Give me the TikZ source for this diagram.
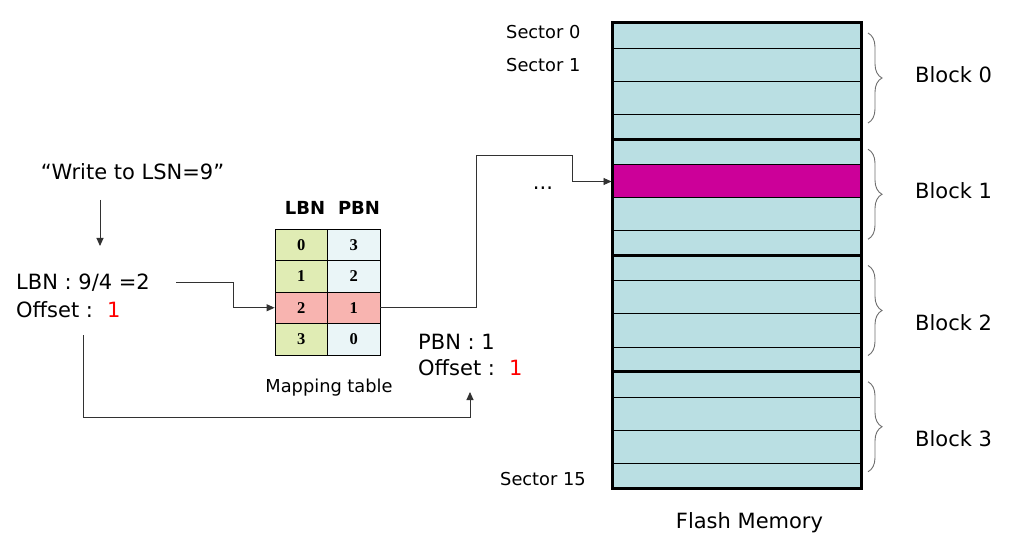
\documentclass[tikz,border=0pt]{standalone}
\usepackage{fontspec}
\setmainfont{DejaVu Sans}
\newfontfamily\tabserif{Liberation Serif}
\usetikzlibrary{decorations.pathreplacing,arrows.meta}
\definecolor{cellblue}{RGB}{186,223,227}
\definecolor{hotmag}{RGB}{204,0,153}
\definecolor{lbngreen}{RGB}{224,236,180}
\definecolor{pbnblue}{RGB}{234,245,247}
\definecolor{hipink}{RGB}{248,180,176}
\definecolor{conn}{RGB}{50,50,50}
\definecolor{bracegray}{RGB}{110,110,110}
\tikzset{
  txt/.style={inner sep=0pt, font=\fontsize{21}{23}\selectfont},
  small/.style={inner sep=0pt, font=\fontsize{17.8}{20}\selectfont},
  hdr/.style={inner sep=0pt, font=\fontsize{18}{20}\selectfont\bfseries},
  cell/.style={draw=black, line width=0.8pt, minimum width=52.5pt, minimum height=31.5pt, inner sep=0pt, font=\fontsize{16.5}{18}\selectfont\tabserif\bfseries},
  conline/.style={draw=conn, line width=0.9pt},
  arr/.style={-{Triangle[length=8pt,width=7pt]}},
  blockbrace/.style={draw=bracegray, line width=0.9pt, decorate, decoration={brace, amplitude=14pt, aspect=0.5}},
}
\begin{document}
\begin{tikzpicture}[x=1pt,y=-1pt]
\useasboundingbox (0,0) rectangle (1010,548);
% flash memory body
\fill[cellblue] (612,23) rectangle (861,488);
\foreach \b in {0,...,3}{
  \pgfmathsetmacro\t{23+116.25*\b}
  \foreach \o in {25.5,58.5,91.5}{
    \draw[line width=1pt] (612,\t+\o) -- (861,\t+\o);
  }
}
\node[draw=black, line width=1pt, fill=hotmag, minimum width=249pt, minimum height=33pt, inner sep=0pt] (s5) at (736.5,181.5) {};
\foreach \y in {139.25,255.5,371.75}{
  \draw[line width=3pt] (612,\y) -- (861,\y);
}
\node[draw=black, line width=3pt, minimum width=249pt, minimum height=465pt, inner sep=0pt] (fm) at (736.5,255.5) {};
% braces and block labels
\foreach \b in {0,...,3}{
  \pgfmathsetmacro\t{23+116.25*\b}
  \draw[blockbrace] (868,\t+10) -- (868,\t+100);
}
\node[txt, anchor=base west] (b0) at (915,82.5) {Block 0};
\node[txt, anchor=base west] (b1) at (915,198.5) {Block 1};
\node[txt, anchor=base west] (b2) at (915,330.5) {Block 2};
\node[txt, anchor=base west] (b3) at (915,446.5) {Block 3};
% sector labels
\node[small, anchor=base west] (sec0) at (506,39) {Sector 0};
\node[small, anchor=base west] (sec1) at (506,71.5) {Sector 1};
\node[small, anchor=base west] (sec15) at (500,485) {Sector 15};
\node[txt, anchor=base] (fmlabel) at (749.5,528.5) {Flash Memory};
% left texts
\node[txt, anchor=base] (write) at (132.5,180) {“Write to LSN=9”};
\node[txt, anchor=base west] (lbn) at (16,290) {LBN : 9/4 =2};
\node[txt, anchor=base west] (off) at (16,317) {Offset :\hspace{14pt}{\color{red}1}};
\node[txt, anchor=base west] (pbn) at (418,349.5) {PBN : 1};
\node[txt, anchor=base west] (off2) at (418,375.5) {Offset :\hspace{14pt}{\color{red}1}};
\node[txt, anchor=base] (dots) at (543,190) {...};
% mapping table
\node[hdr, anchor=base] (hl) at (305,215) {LBN};
\node[hdr, anchor=base] (hp) at (359,215) {PBN};
\node[cell, fill=lbngreen] (c00) at (301.25,244.75) {0};
\node[cell, fill=pbnblue]  (c01) at (353.75,244.75) {3};
\node[cell, fill=lbngreen] (c10) at (301.25,276.25) {1};
\node[cell, fill=pbnblue]  (c11) at (353.75,276.25) {2};
\node[cell, fill=lbngreen] (c30) at (301.25,339.25) {3};
\node[cell, fill=pbnblue]  (c31) at (353.75,339.25) {0};
\node[cell, fill=hipink]   (c20) at (301.25,307.75) {2};
\node[cell, fill=hipink]   (c21) at (353.75,307.75) {1};
\node[small, anchor=base] (maplabel) at (329,392) {Mapping table};
% connectors
\coordinate (w1) at (100,200);
\coordinate (w2) at (100,246);
\draw[conline, arr] (w1) -- (w2);
\coordinate (l1) at (176,282);
\coordinate (l2) at (233,282);
\draw[conline, arr] (l1) -- (l2) |- (c20.west);
\coordinate (t1) at (476.5,155);
\coordinate (t2) at (572.5,155);
\draw[conline, arr] (c21.east) -| (t1) -- (t2) |- (s5.west);
\coordinate (o1) at (83,335);
\coordinate (o2) at (83,417);
\coordinate (p1) at (470,392);
\draw[conline, arr] (o1) -- (o2) -| (p1);
\end{tikzpicture}
\end{document}
